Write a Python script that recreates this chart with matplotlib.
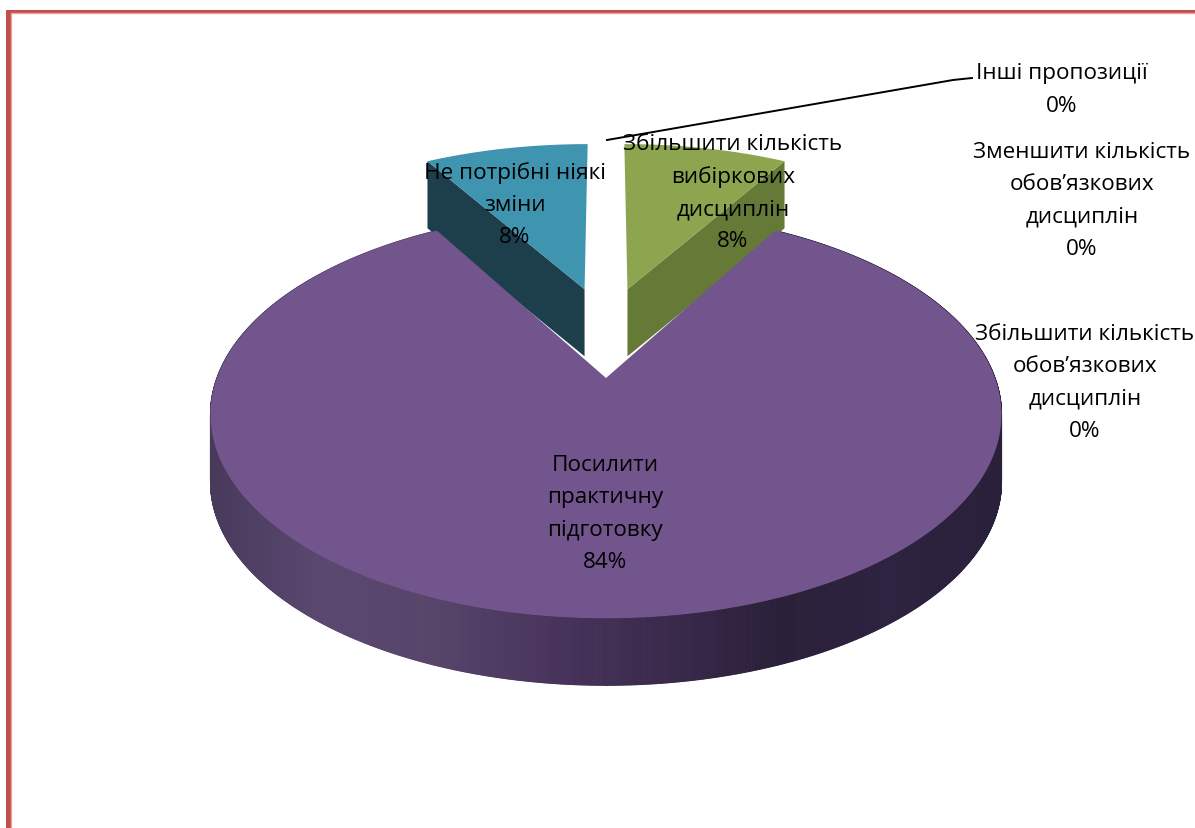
import numpy as np
import matplotlib
matplotlib.use("Agg")
import matplotlib.pyplot as plt
from matplotlib.collections import PolyCollection
from matplotlib.colors import LinearSegmentedColormap

plt.rcParams['font.family'] = ['Open Sans', 'DejaVu Sans']

categories = ["Не потрібні ніякі\nзміни", "Збільшити кількість\nвибіркових\nдисциплін",
              "Посилити\nпрактичну\nпідготовку", "Збільшити кількість\nобов’язкових\nдисциплін",
              "Зменшити кількість\nобов’язкових\nдисциплін", "Інші пропозиції"]
shares = [8.4, 8.4, 83.5, 0, 0, 0]

top_colors = ["#3F94B0", "#8CA54E", "#72558C"]
dark_colors = ["#1D3F4C", "#667A38"]
label_pos = [(515, 205), (733, 193), (605, 514), (1085, 383), (1082, 201), (1062, 90)]

CX, CY, RX, RY, K = 606, 379, 389, 197, 0.18
DEPTH = 67
offsets = [(-0.06, 0.49), (0.06, 0.49)]
SLICE_R = 1.02


def project(theta, r=1.0, off=(0, 0)):
    # theta clockwise from the back of the pie, simple perspective
    X = r * np.sin(theta) + off[0]
    Y = r * np.cos(theta) + off[1]
    s = 1 / (1 + K * Y)
    return CX + RX * X * s, CY - RY * Y * s


fig = plt.figure(figsize=(11.95, 8.29), dpi=100)
ax = fig.add_axes([0, 0, 1, 1])
ax.set_xlim(0, 1195)
ax.set_ylim(829, 0)
ax.axis("off")

# page border
ax.fill_between([6, 11], 11, 829, color="#C0504D", lw=0)
ax.fill_between([6, 1195], 11, 13.5, color="#C0504D", lw=0)
ax.plot([11.5, 11.5, 1195], [829, 14, 14], color="#E8A5A2", lw=1)

sweep = np.radians(shares[0] / sum(shares) * 360)
main_sweep = np.radians(shares[2] / sum(shares) * 360)

# side wall of the big slice
t = np.linspace(sweep, sweep + main_sweep, 1500)
x, y = project(t)
quads = [[(x[i], y[i]), (x[i + 1], y[i + 1]), (x[i + 1], y[i + 1] + DEPTH), (x[i], y[i] + DEPTH)]
         for i in range(len(t) - 1)]
side_cmap = LinearSegmentedColormap.from_list(
    "side", ["#493A5C", "#5B4870", "#574469", "#48345D", "#3B2A4C", "#2A2039", "#2E2340", "#2A203A"])
side = PolyCollection(quads, array=(x[:-1] - 211) / 792, cmap=side_cmap, clim=(0, 1))
side.set_edgecolor("face")
side.set_linewidth(0.8)
side.set_joinstyle("round")
ax.add_collection(side)

# the two pulled out slices
for start, stop, off, top_c, dark_c in [(-sweep, 0, offsets[0], top_colors[0], dark_colors[0]),
                                        (0, sweep, offsets[1], top_colors[1], dark_colors[1])]:
    t = np.linspace(start, stop, 40)
    x, y = project(t, SLICE_R, off)
    ax_, ay_ = project(0, 0.0, off)
    outer = 0 if start < 0 else -1
    ax.fill([ax_, x[outer], x[outer], ax_], [ay_, y[outer], y[outer] + DEPTH, ay_ + DEPTH],
            color=dark_c, lw=0)
    ax.fill(np.r_[ax_, x], np.r_[ay_, y], color=top_c, lw=0)

# top of the big slice
t = np.linspace(sweep, sweep + main_sweep, 300)
x, y = project(t)
ax.fill(np.r_[CX, x], np.r_[CY, y], color=top_colors[2], lw=0)

# leader for the zero slice
ax.plot([607, 953, 972], [141, 81, 79], color="black", lw=1.4)

for name, val, (lx, ly) in zip(categories, shares, label_pos):
    ax.text(lx, ly, f"{name}\n{val:.0f}%", ha="center", va="center", fontsize=16.2,
            linespacing=1.69, color="black")

fig.savefig("out.png", dpi=100)
